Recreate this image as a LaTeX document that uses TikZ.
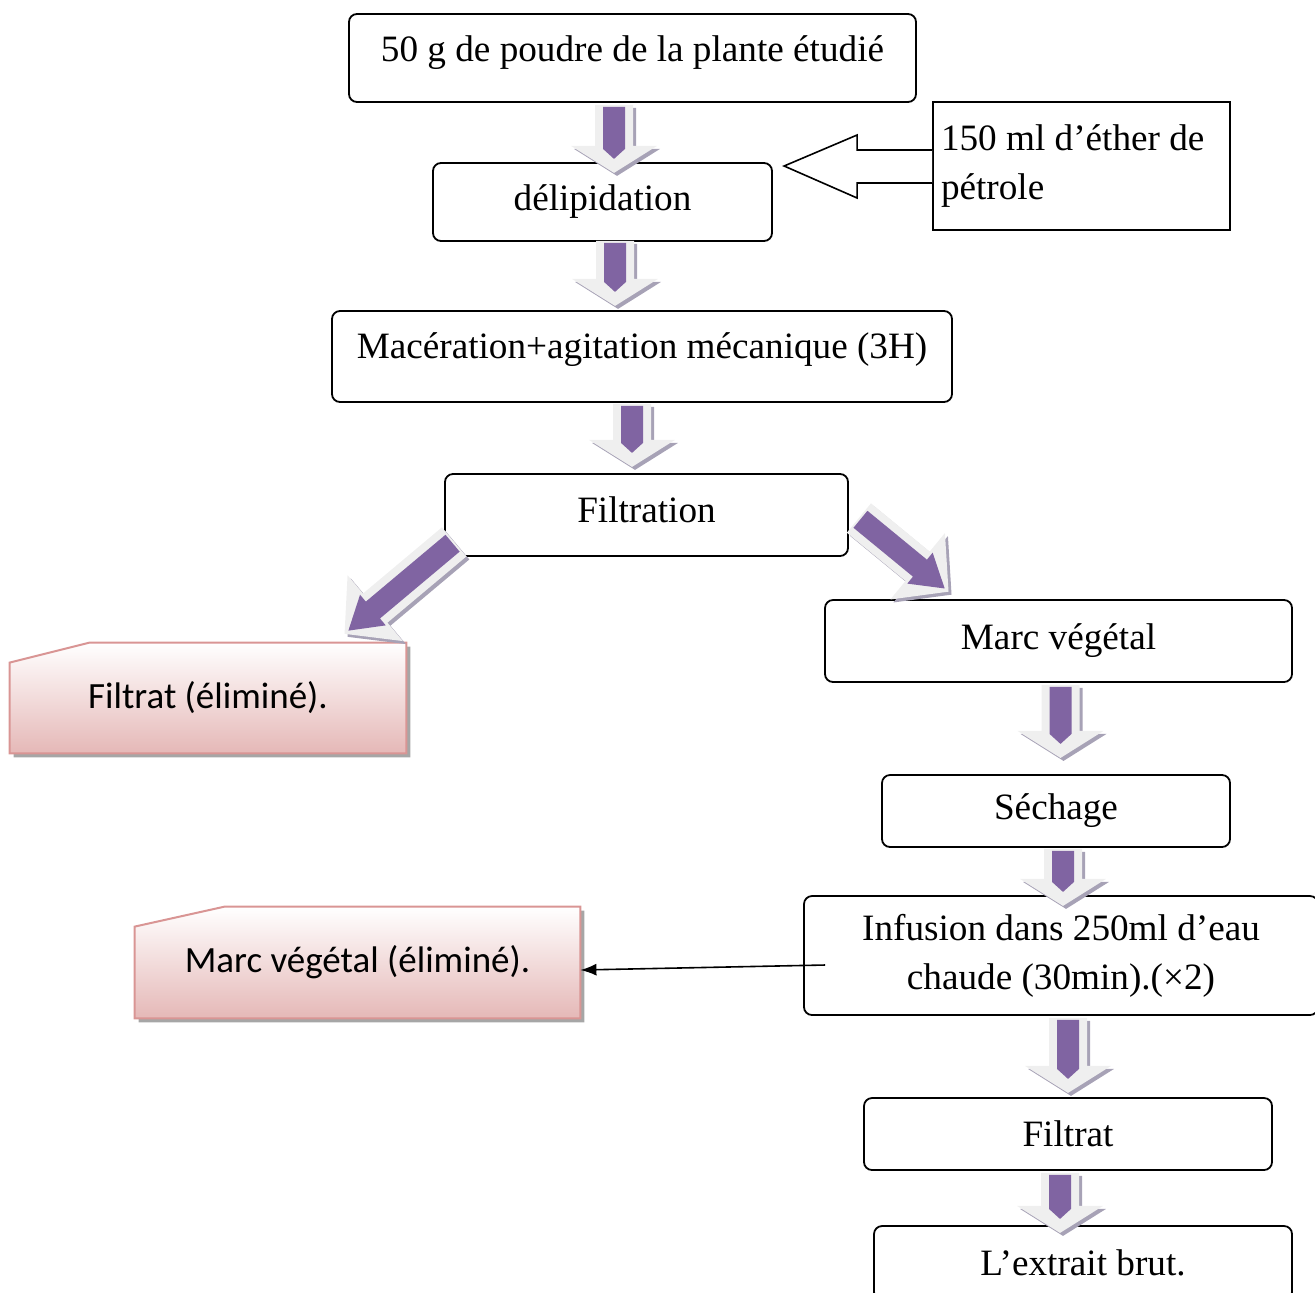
\documentclass[tikz,border=0pt]{standalone}
\usepackage{fontspec}
\setmainfont{Liberation Serif}
\newfontfamily\calibri{Carlito}
\usetikzlibrary{arrows.meta,backgrounds}

\definecolor{arrowviolet}{HTML}{8064A2}
\definecolor{arrowrim}{HTML}{EFEFEF}
\definecolor{arrowshade}{HTML}{A7A2B6}
\definecolor{pinkfill}{HTML}{E5B8B7}
\definecolor{pinkline}{HTML}{D99594}
\definecolor{boxshadow}{HTML}{A6A6A6}

% block arrow: start, angle, length, head length, violet wing
\newcommand{\fatarrow}[5]{%
  \begin{scope}[shift={#1}]
    \fill[arrowshade, shift={(3,3)}, rotate=#2] (-19,0) -- (19,0) -- (19,#3-#4) -- (43,#3-#4) -- (0,#3) -- (-43,#3-#4) -- (-19,#3-#4) -- cycle;
    \fill[arrowrim, rotate=#2] (-19,0) -- (19,0) -- (19,#3-#4) -- (43,#3-#4) -- (0,#3) -- (-43,#3-#4) -- (-19,#3-#4) -- cycle;
    \fill[arrowviolet, rotate=#2] (-11,2) -- (11,2) -- (11,#3-#4+3) -- (#5,#3-#4+3) -- (0,#3-25+#5) -- (-#5,#3-#4+3) -- (-11,#3-#4+3) -- cycle;
  \end{scope}}

% pink box with cut corner
\newcommand{\cutshape}[2]{%
  \fill[boxshadow] ([shift={(4,4)}]#1.south west) -- ([shift={(4,4)}]#1.south east) -- ([shift={(4,4)}]#1.north east) -- ([shift={(#2+4,4)}]#1.north west) -- ([shift={(4,24)}]#1.north west) -- cycle;
  \shadedraw[top color=white, bottom color=pinkfill, draw=pinkline, line width=1pt] (#1.south west) -- (#1.south east) -- (#1.north east) -- ([shift={(#2,0)}]#1.north west) -- ([shift={(0,20)}]#1.north west) -- cycle;}

\begin{document}
\begin{tikzpicture}[x=0.5pt,y=-0.5pt,
    every node/.style={font=\fontsize{18.6}{24.5}\selectfont},
    procbox/.style={draw, rounded corners=4pt, line width=0.9pt, align=center, inner sep=2pt},
    cutbox/.style={font=\calibri\fontsize{18.5}{22}\selectfont, inner sep=0pt}]
  \useasboundingbox (0,0) rectangle (1315,1292);

  \node[procbox, minimum width=283.5pt, minimum height=44pt, text depth=9pt] (plante) at (632.5,58) {50 g de poudre de la plante étudié};
  \node[procbox, minimum width=169.5pt, minimum height=39pt] (delip) at (602.5,202) {délipidation};
  \node[draw, line width=0.9pt, minimum width=148.5pt, minimum height=64pt, text width=140.5pt, inner xsep=4pt, align=flush left] (ether) at (1081.5,166) {150 ml d’éther de\\pétrole};
  \node[procbox, minimum width=310pt, minimum height=45.5pt, text depth=11pt] (mac) at (642,356.5) {Macération+agitation mécanique (3H)};
  \node[procbox, minimum width=201.5pt, minimum height=41pt, text depth=5pt] (filt) at (646.5,515) {Filtration};
  \node[procbox, minimum width=233.5pt, minimum height=41pt] (marc) at (1058.5,641) {Marc végétal};
  \node[procbox, minimum width=174pt, minimum height=36pt] (sech) at (1056,811) {Séchage};
  \node[procbox, minimum width=257pt, minimum height=59.5pt] (inf) at (1061,955.5) {Infusion dans 250ml d’eau\\chaude (30min).(×2)};
  \node[procbox, minimum width=204pt, minimum height=36pt] (filtrat) at (1068,1134) {Filtrat};
  \node[procbox, minimum width=209pt, minimum height=37pt] (extrait) at (1083,1263) {L’extrait brut.};

  \node[cutbox, minimum width=198pt, minimum height=55pt] (filtre) at (208,698) {Filtrat (éliminé).};
  \node[cutbox, minimum width=222.5pt, minimum height=55.5pt] (marcel) at (357.5,962.5) {Marc végétal (éliminé).};
  \begin{scope}[on background layer]
    \cutshape{filtre}{80}
    \cutshape{marcel}{90}
  \end{scope}

  \fatarrow{([shift={(-18.5,2)}]plante.south)}{0}{68}{27}{11}
  \fatarrow{([shift={(12.5,-1)}]delip.south)}{0}{65}{27}{11}
  \fatarrow{([shift={(-10,1)}]mac.south)}{0}{63}{27}{11}
  \fatarrow{([shift={(10,-15)}]filt.south west)}{-50}{143}{40}{20}
  \fatarrow{([shift={(10,3)}]filt.east)}{50.6}{116}{40}{20}
  \fatarrow{([shift={(2,2)}]marc.south)}{0}{73}{27}{11}
  \fatarrow{([shift={(7,1)}]sech.south)}{0}{57}{27}{11}
  \fatarrow{([shift={(7,2)}]inf.south)}{0}{75}{27}{11}
  \fatarrow{([shift={(-8,2)}]filtrat.south)}{0}{60}{27}{11}

  \draw[line width=0.8pt, fill=white] (ether.west) ++(0,-16) -- ++(-75,0) -- ++(0,-15) -- ++(-73,31) -- ++(73,32) -- ++(0,-15) -- ++(75,0);
  \draw[-{Latex[length=8pt,width=6pt]}, line width=0.8pt] ([shift={(22,9.5)}]inf.west) -- ([shift={(0,7.5)}]marcel.east);
\end{tikzpicture}
\end{document}
